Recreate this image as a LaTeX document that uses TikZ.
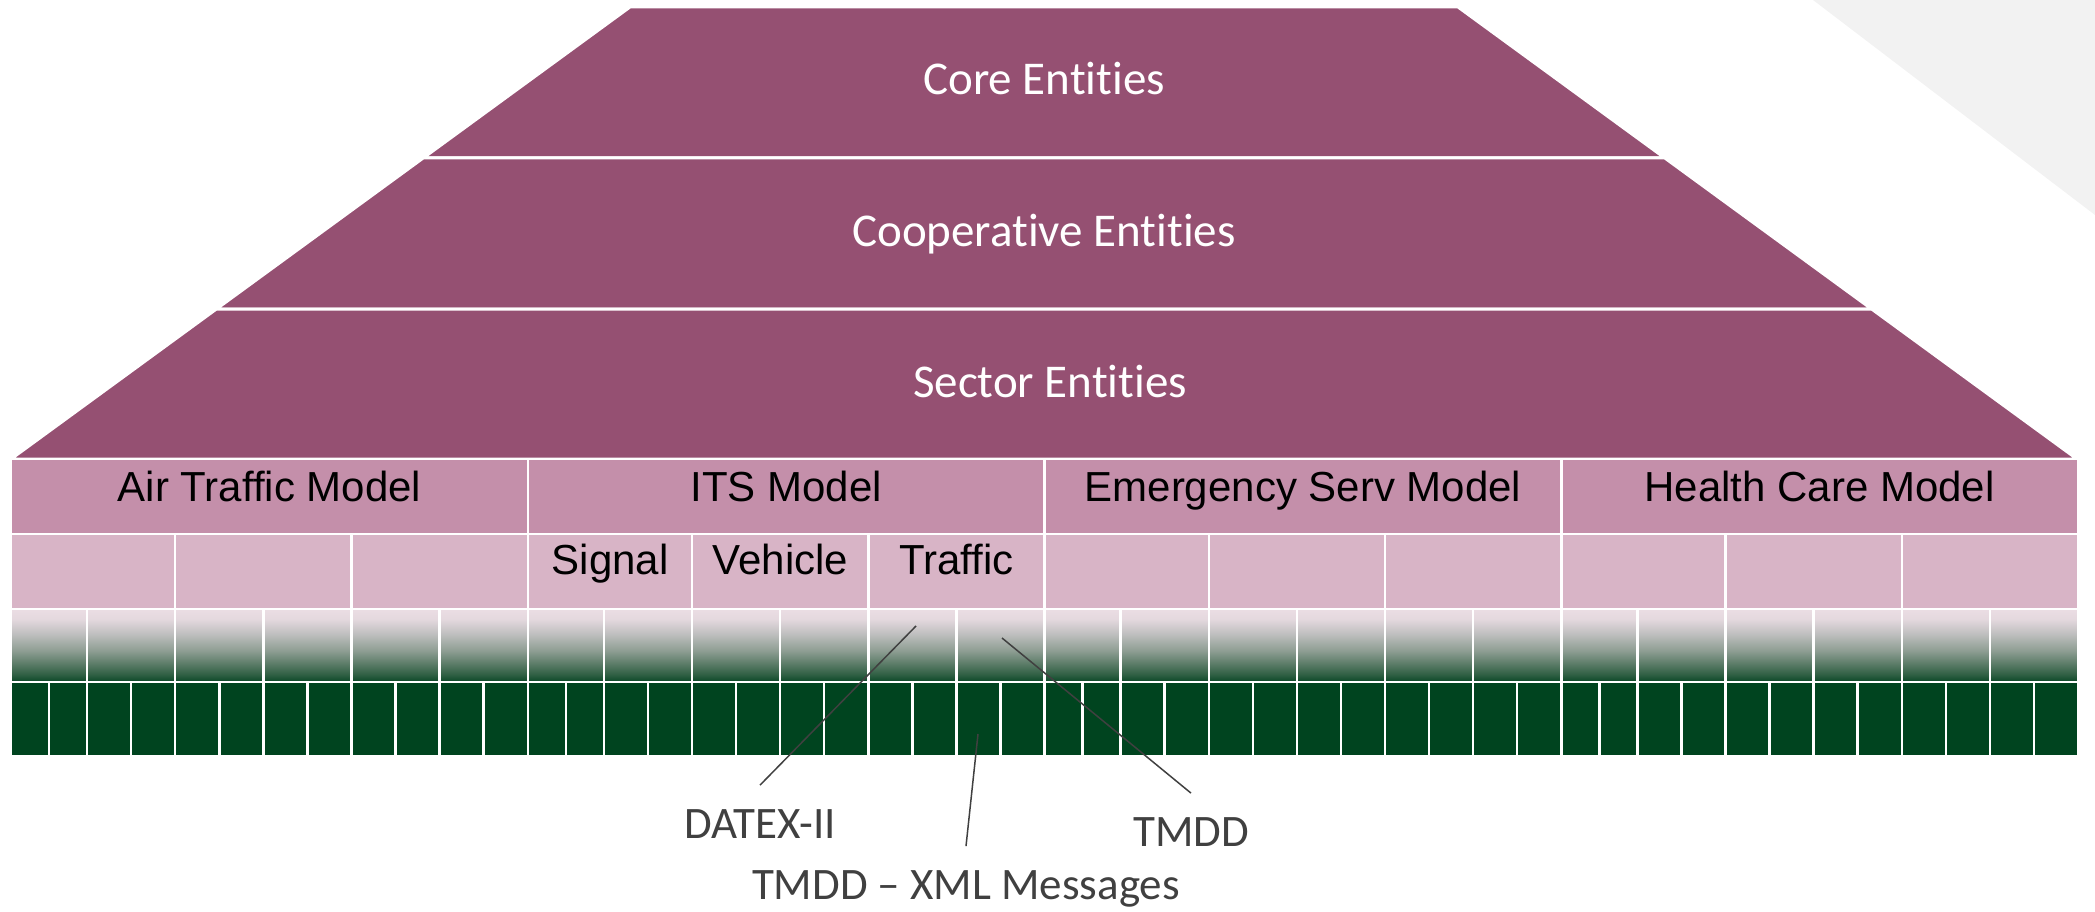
\documentclass[tikz,border=0pt]{standalone}
\usepackage{fontspec}
\newfontfamily\carlito[Ligatures={CommonOff,RareOff,ContextualOff}]{Carlito}
\newfontfamily\arialfont{Liberation Sans}
\definecolor{pyramid}{HTML}{955072}
\definecolor{modelrow}{HTML}{C48FAA}
\definecolor{subrow}{HTML}{D8B4C6}
\definecolor{deepgreen}{HTML}{00441F}
\definecolor{fadetop}{HTML}{EBDDE4}
\definecolor{fadeupper}{HTML}{E4D8DE}
\definecolor{fadegrey}{HTML}{BFBFBF}
\definecolor{fademid}{HTML}{8C9C91}
\definecolor{fadelow}{HTML}{2F5F43}
\definecolor{fadebot}{HTML}{0A4726}
\definecolor{corner}{HTML}{F2F2F2}
\definecolor{leader}{HTML}{404040}

% vertical fade from pale pink through grey into dark green
\pgfdeclareverticalshading{pinktogreen}{100bp}{%
  color(0bp)=(fadebot); color(25bp)=(fadebot); color(30bp)=(fadelow);
  color(46bp)=(fademid); color(58bp)=(fadegrey); color(68bp)=(fadeupper);
  color(75bp)=(fadetop); color(100bp)=(fadetop)}

\begin{document}
\begin{tikzpicture}[x=1pt,y=-1pt,
  layer/.style={fill=pyramid,draw=white,line width=3pt,line join=miter},
  cell/.style={draw=white,line width=2.5pt},
  fadecell/.style={cell,shading=pinktogreen},
  tier/.style={text=white,font=\carlito\fontsize{47}{56}\selectfont,anchor=base,inner sep=0pt},
  modeltext/.style={font=\arialfont\fontsize{42}{50}\selectfont,anchor=base,inner sep=0pt},
  note/.style={text=leader,font=\carlito\fontsize{45}{54}\selectfont,anchor=base,inner sep=0pt,outer ysep=24pt},
  leaderline/.style={draw=leader,line width=1.5pt}]

\useasboundingbox (0,0) rectangle (2095,912);

% grey corner wedge
\fill[corner] (1813,0) -- (2095,0) -- (2095,215) -- cycle;

% three stacked tiers of the pyramid
\path[layer] (630,7) -- (1458,7) -- (1664.8,158) -- (423.2,158) -- cycle;
\path[layer] (423.2,158) -- (1664.8,158) -- (1871.6,309) -- (216.4,309) -- cycle;
\path[layer] (216.4,309) -- (1871.6,309) -- (2077,459) -- (11,459) -- cycle;

\node[tier] (core) at (1044,95) {Core Entities};
\node[tier] (coop) at (1044,246) {Cooperative Entities};
\node[tier] (sector) at (1050,397) {Sector Entities};

% model grid: four columns, each split into 3 / 6 / 12 cells
\def\colw{516.75}
\def\ua{76.11}
\def\ub{88.128}
\foreach \c in {0,...,3} {
  \pgfmathsetmacro\colx{11+\c*\colw}
  \path[cell,fill=modelrow] (\colx,459) rectangle ++(\colw,75);
  \path[cell,fill=subrow] (\colx,534) rectangle ++(\ua+\ub,75);
  \path[cell,fill=subrow] ({\colx+\ua+\ub},534) rectangle ++(2*\ub,75);
  \path[cell,fill=subrow] ({\colx+\ua+3*\ub},534) rectangle ++(2*\ub,75);
  \path[fadecell] (\colx,609) rectangle ++(\ua,73);
  \foreach \k in {0,...,4}
    \path[fadecell] ({\colx+\ua+\k*\ub},609) rectangle ++(\ub,73);
  \path[cell,fill=deepgreen] (\colx,682) rectangle ++(\ua/2,74);
  \path[cell,fill=deepgreen] ({\colx+\ua/2},682) rectangle ++(\ua/2,74);
  \foreach \k in {0,...,9}
    \path[cell,fill=deepgreen] ({\colx+\ua+\k*\ub/2},682) rectangle ++(\ub/2,74);
}

\node[modeltext] (air) at (269.4,501) {Air Traffic Model};
\node[modeltext] (its) at (786.1,501) {ITS Model};
\node[modeltext] (ems) at (1302.9,501) {Emergency Serv Model};
\node[modeltext] (health) at (1819.6,501) {Health Care Model};

\node[modeltext] (signal) at (610.2,574) {Signal};
\node[modeltext] (vehicle) at (780.4,574) {Vehicle};
\node[modeltext] (traffic) at (956.6,574) {Traffic};

% standards called out below the grid
\coordinate (datexTip) at (916,626);
\coordinate (xmlTip) at (978,734);
\coordinate (tmddTip) at (1002,638);
\node[note] (datex) at (760,838) {DATEX-II};
\node[note] (xml) at (966,899) {TMDD – XML Messages};
\node[note] (tmdd) at (1191,846) {TMDD};
\draw[leaderline] (datexTip) -- (datex.north);
\draw[leaderline] (xmlTip) -- (xml.north);
\draw[leaderline] (tmddTip) -- (tmdd.north);
\end{tikzpicture}
\end{document}
